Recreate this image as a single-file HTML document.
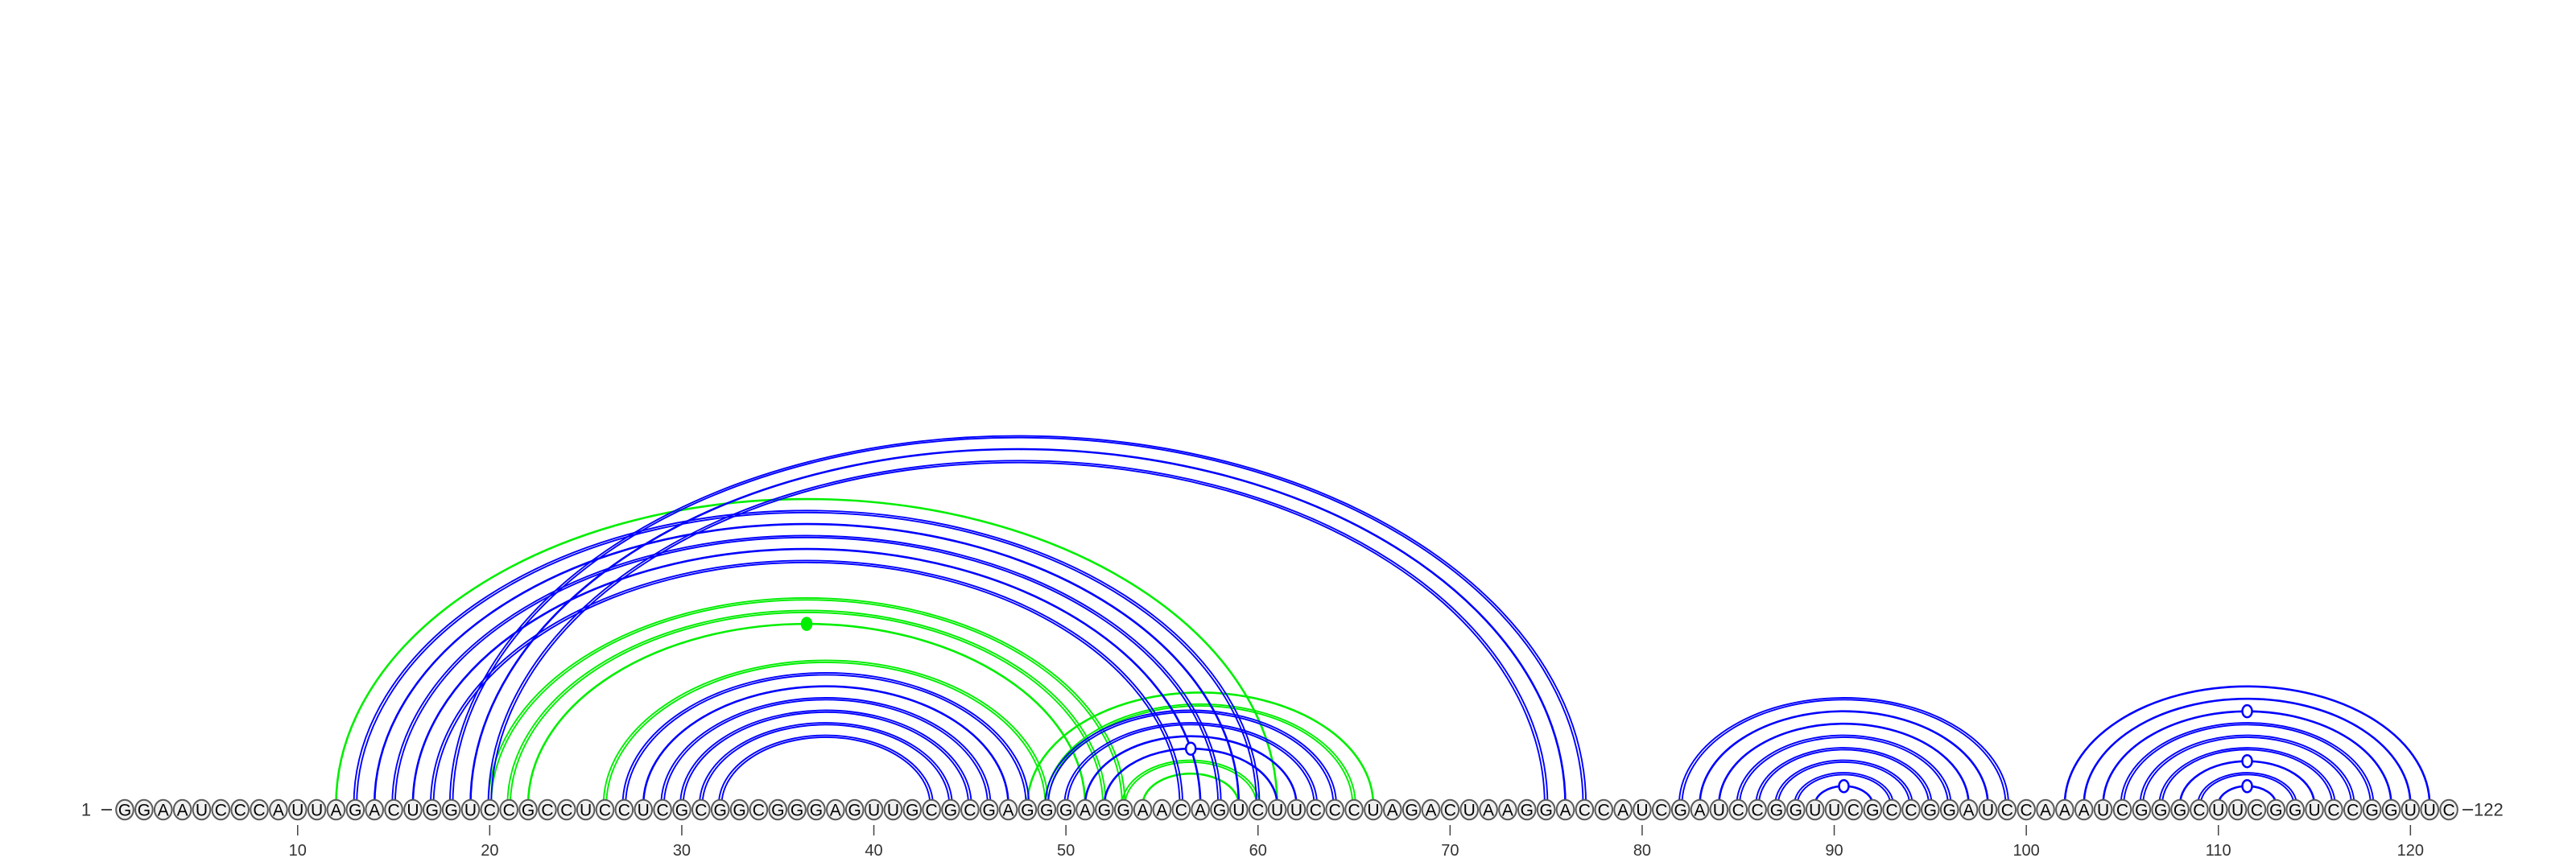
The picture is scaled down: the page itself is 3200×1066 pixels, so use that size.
<!DOCTYPE html>
<html><head><meta charset="utf-8"><style>
html,body{margin:0;padding:0;background:#fff;}
svg{display:block;}
</style></head><body>
<svg id="chart" width="3200" height="1066" viewBox="0 0 3200 1066" xmlns="http://www.w3.org/2000/svg" font-family="'Liberation Sans', 'DejaVu Sans', sans-serif">
<g id="arcs"></g>
<g id="nts"></g>
<g id="axis"></g>
</svg>
<script>
const sequence = "GGAAUCCCAUUAGACUGGUCCGCCUCCUCGCGGCGGGAGUUGCGCGAGGGAGGAACAGUCUUCCCUAGACUAAGGACCAUCGAUCCGGUUCGCCGGAUCCAAAUCGGGCUUCGGUCCGGUUC";
// pairs: [i, j, double(1/0), marker(0 none,1 open circle,2 filled dot)]
const bluePairs = [
 [13,60,1,0],[14,59,0,0],[15,58,1,0],[16,57,0,0],[17,56,1,0],
 [18,77,1,0],[19,76,0,0],[20,75,1,0],
 [27,48,1,0],[28,47,0,0],[29,46,1,0],[30,45,1,0],[31,44,1,0],[32,43,1,0],
 [49,64,1,0],[50,63,1,0],[51,62,0,0],[52,61,0,1],
 [82,99,1,0],[83,98,0,0],[84,97,0,0],[85,96,1,0],[86,95,1,0],[87,94,1,0],[88,93,1,0],[89,92,0,1],
 [102,121,0,0],[103,120,0,0],[104,119,0,1],[105,118,1,0],[106,117,1,0],[107,116,1,0],[108,115,0,1],[109,114,1,0],[110,113,0,1]
];
const greenPairs = [
 [12,61,0,0],[20,53,1,0],[21,52,1,0],[22,51,0,2],[26,49,1,0],
 [48,66,0,0],[49,65,1,0],[53,60,1,0],[54,59,0,0]
];
const tickPositions = [10,20,30,40,50,60,70,80,90,100,110,120];

const NS = "http://www.w3.org/2000/svg";
const X0 = 155, DX = 23.86, BASE = 1000, CY = 1006, RATIO = 0.65;
function xPos(n){ return X0 + (n-1)*DX; }
function mk(tag, attrs, parent){
  const e = document.createElementNS(NS, tag);
  for (const k in attrs) e.setAttribute(k, attrs[k]);
  parent.appendChild(e); return e;
}
const arcsG = document.getElementById('arcs');
function arcPath(cx, rx){
  const ry = rx*RATIO;
  return `M${cx-rx},${BASE} A${rx},${ry} 0 0 1 ${cx+rx},${BASE}`;
}
function drawPairs(pairs, color, name){
  pairs.forEach(p => {
    const [i,j,dbl,mark] = p;
    const cx = (xPos(i)+xPos(j))/2, rx = (xPos(j)-xPos(i))/2;
    const g = mk('g', {}, arcsG);
    
    
    if (dbl){
      [rx-1.8, rx+1.8].forEach(r => {
        const el = mk('path', {d: arcPath(cx, r), fill:'none', stroke:color, 'stroke-width':1.9}, g);
        
        
      });
    } else {
      const el = mk('path', {d: arcPath(cx, rx), fill:'none', stroke:color, 'stroke-width':2.6}, g);
      
      
    }
    if (mark){
      const top = BASE - rx*RATIO;
      const m = mk('ellipse', {cx:cx, cy:top, rx:6, ry:7.5, fill: mark===2?color:'#fff', stroke:color, 'stroke-width':2.5}, g);
      
      
    }
  });
}
drawPairs(greenPairs, '#00ee00', 'green');
drawPairs(bluePairs, '#0000ff', 'blue');

const ntG = document.getElementById('nts');
for (let k=0; k<sequence.length; k++){
  const n = k+1, x = xPos(n);
  const g = mk('g', {}, ntG);
  
  
  mk('ellipse', {cx:x, cy:CY, rx:10.8, ry:12.3, fill:'#f0f0f0', stroke:'#5a5a5a', 'stroke-width':2}, g);
  const t = mk('text', {x:x, y:CY+7.5, 'text-anchor':'middle', 'font-size':21, fill:'#000'}, g);
  t.textContent = sequence[k];
}
const axG = document.getElementById('axis');
const startLbl = mk('text', {x:107, y:CY+7.5, 'text-anchor':'middle', 'font-size':22, fill:'#333'}, axG);
startLbl.textContent = '1';


mk('line', {x1:126, x2:139, y1:CY, y2:CY, stroke:'#333', 'stroke-width':1.8}, axG);
const endX = xPos(sequence.length);
mk('line', {x1:endX+17, x2:endX+30, y1:CY, y2:CY, stroke:'#333', 'stroke-width':1.8}, axG);
const endLbl = mk('text', {x:endX+31, y:CY+7.5, 'text-anchor':'start', 'font-size':22, fill:'#333'}, axG);
endLbl.textContent = String(sequence.length);


tickPositions.forEach(n => {
  const x = xPos(n);
  const tk = mk('line', {x1:x, x2:x, y1:1025, y2:1038, stroke:'#444', 'stroke-width':1.5}, axG);
  
  
  const tl = mk('text', {x:x, y:1063, 'text-anchor':'middle', 'font-size':20, fill:'#333'}, axG);
  tl.textContent = String(n);
  
  
});
</script>
</body></html>
